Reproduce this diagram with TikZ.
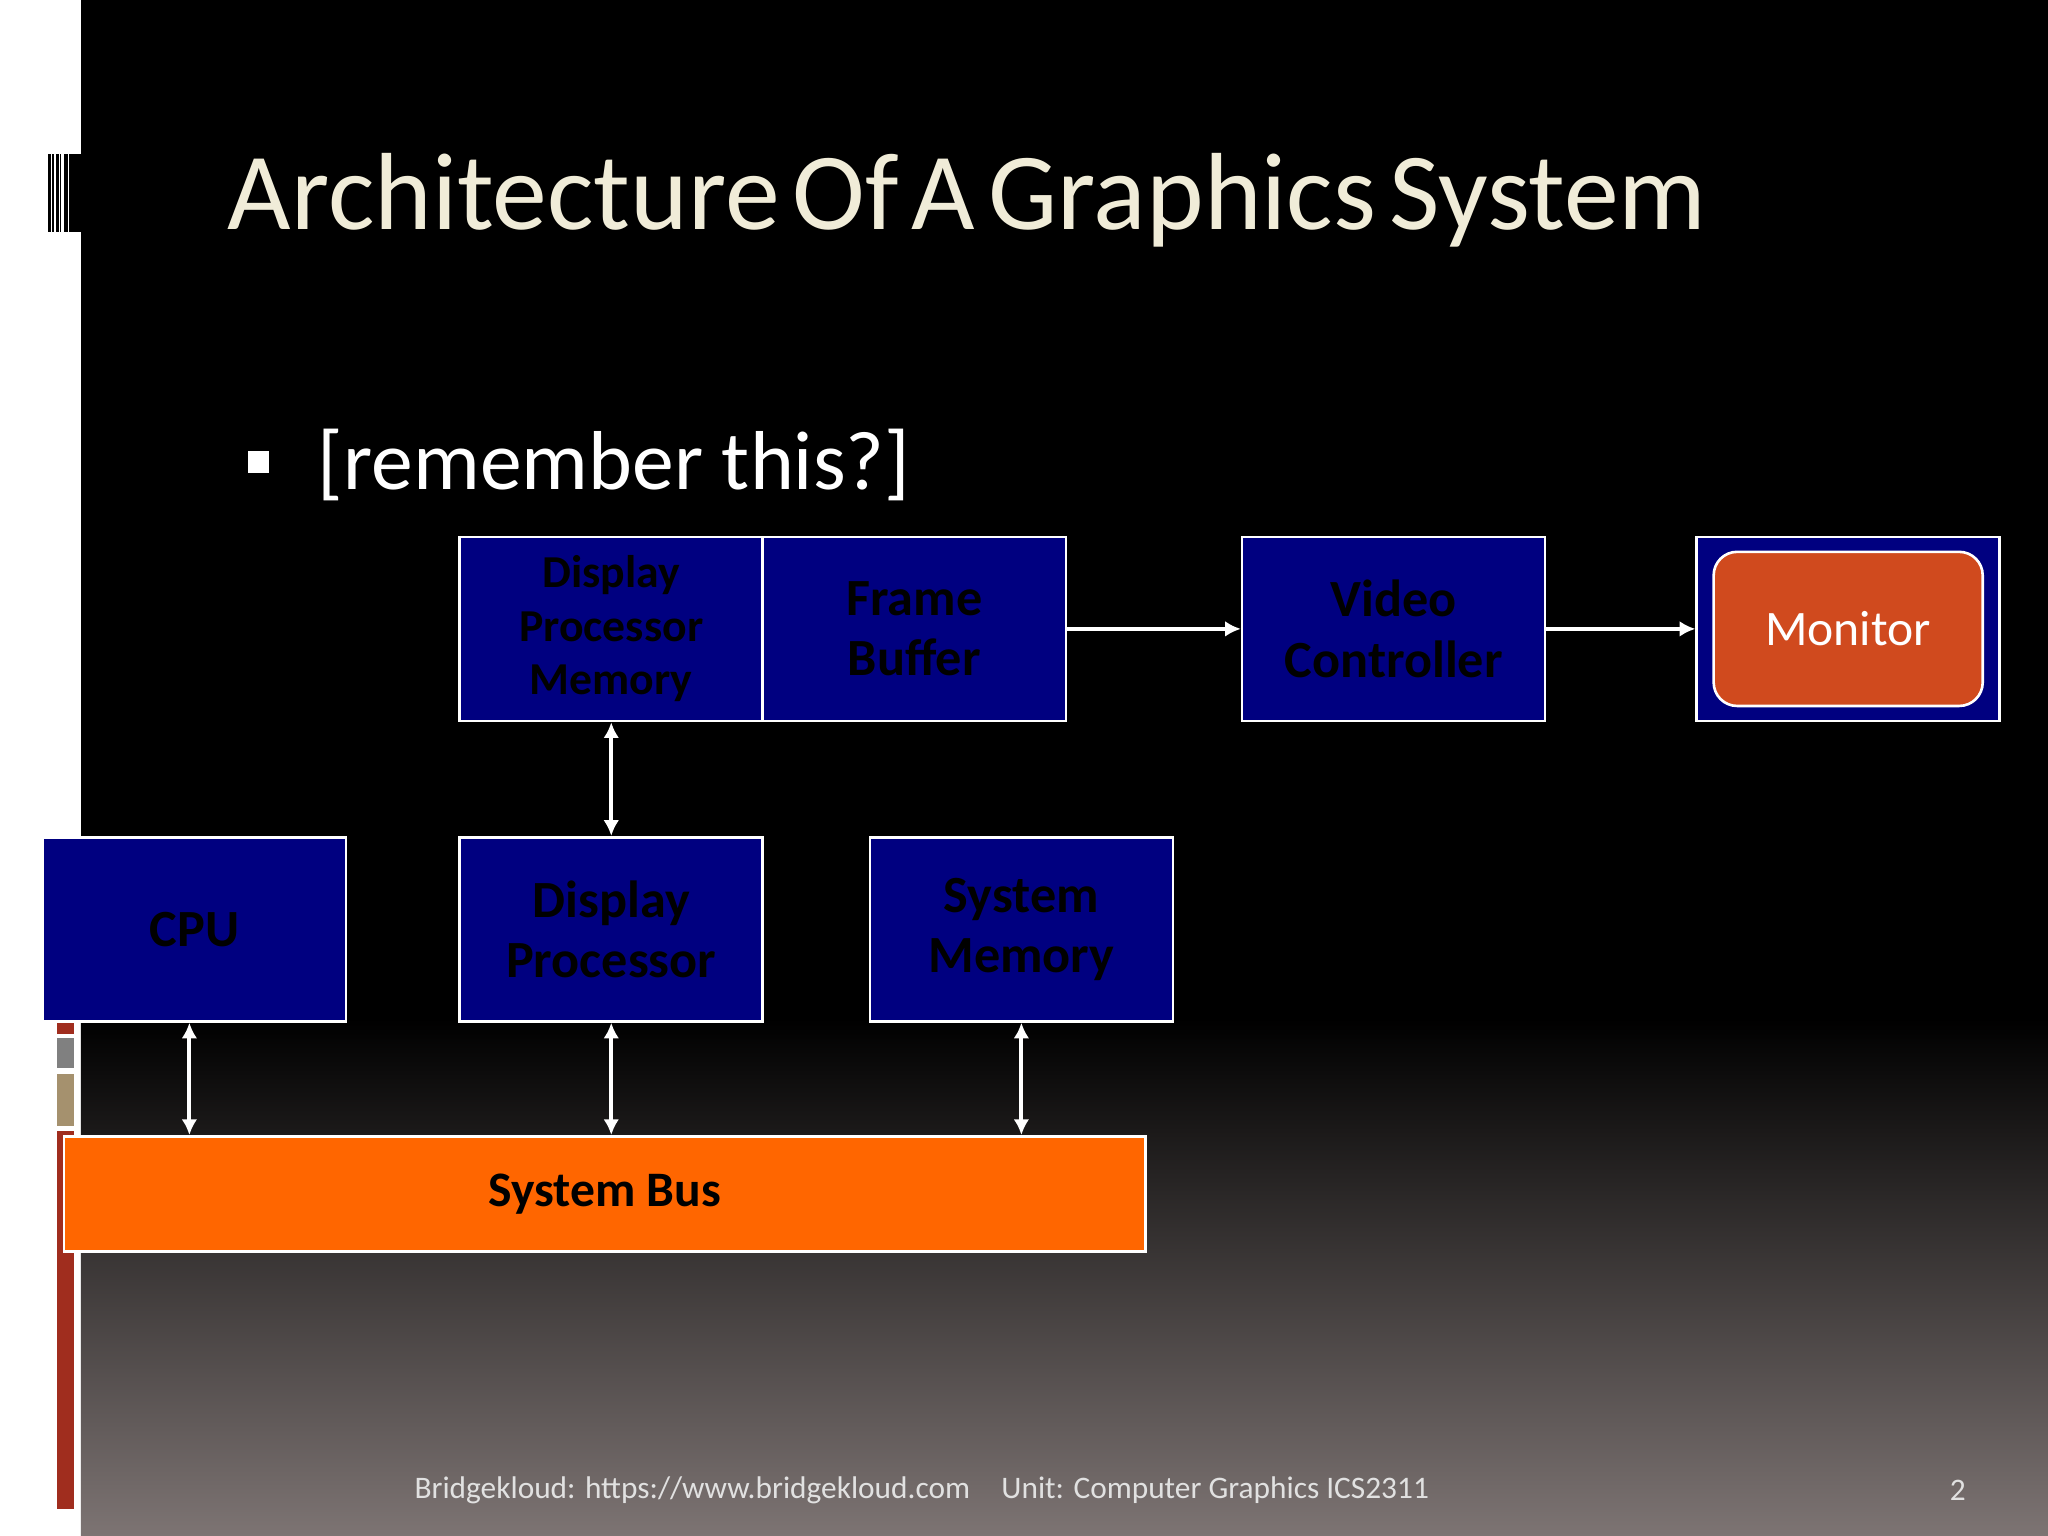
\documentclass[tikz,border=0pt]{standalone}
\usepackage{fontspec}
\setmainfont{Carlito}
\usetikzlibrary{arrows.meta}
\definecolor{navy}{RGB}{0,0,128}
\definecolor{bottomgray}{RGB}{125,116,115}
\definecolor{tan}{RGB}{165,145,110}
\definecolor{stripred}{RGB}{160,45,30}
\definecolor{cream}{RGB}{240,236,216}
\definecolor{monred}{RGB}{208,74,30}
\definecolor{busorange}{RGB}{255,102,0}
\definecolor{foot}{RGB}{225,225,225}
\begin{document}
\begin{tikzpicture}[x=0.5pt,y=-0.5pt,
 box/.style={draw=white,line width=1pt,fill=navy,minimum width=116pt,minimum height=70.5pt,anchor=north west,inner sep=0pt,align=center,font=\fontsize{20}{23}\selectfont\bfseries,text=black},
 arr/.style={white,line width=1.5pt,-{Latex[length=6pt,width=6pt]}},
 darr/.style={white,line width=1.5pt,{Latex[length=6pt,width=6pt]}-{Latex[length=6pt,width=6pt]}}]
\useasboundingbox (0,0) rectangle (1568,1176);
\fill[white] (0,0) rectangle (62,1176);
\fill[black] (62,0) rectangle (1568,780);
\shade[top color=black,bottom color=bottomgray] (62,780) rectangle (1568,1176);
\foreach \a/\b in {37/39,40/41,43/45,46/47,49/52,53/62}{\fill[black] (\a,118) rectangle (\b,178);}
\fill[stripred] (44,780) rectangle (57,792);
\fill[gray] (44,795) rectangle (57,818);
\fill[tan] (44,822) rectangle (57,862);
\fill[stripred] (44,866) rectangle (57,1155);
\node[anchor=west,text=cream,font=\fontsize{42}{46}\selectfont,inner sep=0pt] (title) at (174,153) {\spaceskip 0.12em Architecture Of A Graphics System};
\fill[white] (190,345) rectangle (206,362);
\node[anchor=west,text=white,font=\fontsize{32}{36}\selectfont,inner sep=0pt] (rem) at (243,356) {[remember this?]};
\node[box,font=\fontsize{17.5}{20.5}\selectfont\bfseries] (dpm) at (351,410) {Display\\Processor\\Memory};
\node[box] (fb) at (583,410) {Frame\\Buffer};
\node[box] (vc) at (950,410) {Video\\Controller};
\node[box] (mo) at (1298,410) {};
\node[draw=white,line width=1pt,fill=monred,rounded corners=9pt,minimum width=103pt,minimum height=59pt,inner sep=0pt,text=white,font=\fontsize{19}{21}\selectfont] (mon) at (mo.center) {Monitor};
\node[box] (cpu) at (32,640) {CPU};
\node[box] (dp) at (351,640) {Display\\Processor};
\node[box] (sm) at (665,640) {System\\Memory};
\node[draw=white,line width=1pt,fill=busorange,minimum width=414pt,minimum height=44pt,anchor=north west,inner sep=0pt,font=\fontsize{19}{21}\selectfont\bfseries] (bus) at (48,869) {System Bus};
\draw[arr] (fb.east) -- (vc.west);
\draw[arr] (vc.east) -- (mo.west);
\draw[darr] (dpm.south) -- (dp.north);
\draw[darr] ([xshift=-2pt]cpu.south) -- ([xshift=-2pt]cpu.south|-bus.north);
\draw[darr] (dp.south) -- (dp.south|-bus.north);
\draw[darr] (sm.south) -- (sm.south|-bus.north);
\node[text=foot,font=\fontsize{12}{14}\selectfont,anchor=west,inner sep=0pt] (ft) at (317,1141) {Bridgekloud: https://www.bridgekloud.com\quad Unit: Computer Graphics ICS2311};
\node[text=foot,font=\fontsize{12}{14}\selectfont,inner sep=0pt] (pg) at (1499,1141) {2};
\end{tikzpicture}
\end{document}
